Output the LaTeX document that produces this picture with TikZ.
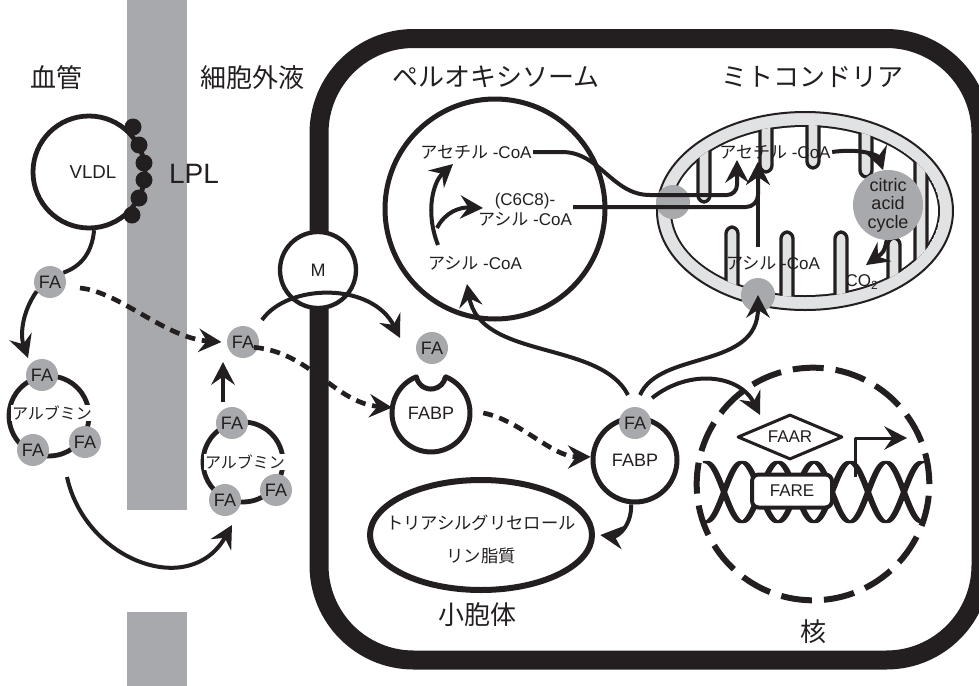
\documentclass[tikz,border=0pt]{standalone}
\usepackage{fontspec}
\setmainfont{Liberation Sans}
\newfontfamily\jp{Noto Sans CJK JP}
\usetikzlibrary{arrows.meta,shapes.geometric}

\definecolor{ink}{HTML}{231F20}
\definecolor{wallgray}{HTML}{A7A9AC}
\definecolor{fagray}{HTML}{A7A9AC}
\definecolor{mitogray}{HTML}{E1E2E4}

\tikzset{
  conn/.style={draw=ink, line width=3pt},
  arr/.style={conn, -{Stealth[length=17pt,width=17.5pt,inset=6pt]}},
  dotarr/.style={arr, line width=3.5pt, dash pattern=on 7.5pt off 5pt},
  fa/.style={circle, fill=fagray, minimum size=24pt, inner sep=0pt,
             font=\fontsize{13.5}{14}\selectfont, text=ink},
  ring/.style={circle, draw=ink, line width=3.6pt, inner sep=0pt},
  lpldot/.style={circle, fill=ink, minimum size=12.75pt, inner sep=0pt},
  biglabel/.style={font=\jp\fontsize{19.5}{22}\selectfont, text=ink, inner sep=0pt},
  smalljp/.style={font=\jp\fontsize{12.5}{14}\selectfont, text=ink},
  coa/.style={font=\fontsize{12.75}{15}\selectfont, text=ink, inner sep=1pt},
  crista/.style={fill=mitogray, draw=ink, line width=2.5pt, rounded corners=5pt},
  strand/.style={ink, line width=1.6pt},
}

\begin{document}
\begin{tikzpicture}[x=0.75pt,y=-0.75pt,line join=round]
\useasboundingbox (0,0) rectangle (979,686);
\fill[white] (0,0) rectangle (979,686);

% vessel wall
\fill[wallgray] (127,0) rectangle (187,510);
\fill[wallgray] (127,612) rectangle (187,686);

% cell membrane
\draw[ink, line width=14.25pt, rounded corners=71pt] (319,38.5) rectangle (981,660);

% compartment labels
\node[biglabel] (lblood) at (57,78) {血管};
\node[biglabel] (lecf) at (252,78) {細胞外液};
\node[biglabel] (lperox) at (496,77) {ペルオキシソーム};
\node[biglabel] (lmito) at (812,77) {ミトコンドリア};
\node[biglabel] (ler) at (477,615) {小胞体};
\node[biglabel] (lnuc) at (813,632) {核};

% VLDL with lipoprotein lipase
\node[ring, minimum size=84pt, font=\fontsize{14}{16}\selectfont, text=ink] (vldl) at (89,172) {\hspace*{6pt}VLDL};
\node[lpldot] (lpl1) at (133,127) {};
\node[lpldot] (lpl2) at (139,145) {};
\node[lpldot] (lpl3) at (144,163) {};
\node[lpldot] (lpl4) at (144,180) {};
\node[lpldot] (lpl5) at (139,198) {};
\node[lpldot] (lpl6) at (132,215) {};
\node[font=\fontsize{21}{24}\selectfont, text=ink] (lpl) at (194,174) {LPL};

\node[fa] (fa0) at (50,282) {FA};
\draw[conn] (vldl.-85) .. controls (92,252) and (82,266) .. (fa0.35);

% albumin in the blood
\node[ring, minimum size=60pt] (alb1) at (49,416) {};
\node[smalljp, fill=white, inner sep=0.5pt, font=\jp\fontsize{12}{14}\selectfont] (alb1t) at (52,413) {アルブミン};
\node[fa] (fa1a) at (42,375) {FA};
\node[fa] (fa1b) at (33,450) {FA};
\node[fa] (fa1c) at (85,442) {FA};

% albumin in the extracellular fluid
\node[ring, minimum size=60pt] (alb2) at (243,462) {};
\node[smalljp, fill=white, inner sep=0.5pt, font=\jp\fontsize{12}{14}\selectfont] (alb2t) at (245,462) {アルブミン};
\node[fa] (fa2a) at (232,423) {FA};
\node[fa] (fa2b) at (225,500) {FA};
\node[fa] (fa2c) at (276,490) {FA};
\node[fa] (fa2) at (243,342) {FA};

\coordinate (a1) at (28,358);
\draw[arr] (fa0.215) .. controls (22,312) and (20,335) .. (a1);
\coordinate (a2s) at (67,477);
\coordinate (a2e) at (232,525);
\draw[arr] (a2s) .. controls (85,560) and (190,600) .. (a2e);
\coordinate (a3s) at (223,402);
\coordinate (a3e) at (223,362);
\draw[arr] (a3s) -- (a3e);
\coordinate (d1s) at (80,288);
\draw[dotarr] (d1s) .. controls (120,292) and (165,338) .. ([xshift=-4pt]fa2.west);

% membrane transporter
\node[ring, fill=white, minimum size=57pt, line width=3.25pt,
      font=\fontsize{13.5}{15}\selectfont, text=ink] (mch) at (318,270) {M};
\coordinate (m1) at (262,320);
\coordinate (m2) at (400,338);
\draw[arr] (m1) .. controls (288,283) and (372,282) .. (m2);

% free FA and empty FABP
\node[fa] (fa3) at (432,348) {FA};
\node[circle, minimum size=58.5pt, inner sep=0pt, font=\fontsize{13.5}{15}\selectfont, text=ink] (fabp1) at (431,413) {FABP};
\draw[ink, line width=3.75pt]
  (445.6,376.8) arc[start angle=-68, end angle=248, radius=39]
  arc[start angle=170, end angle=10, radius=14.8] -- cycle;
\draw[dotarr] ([xshift=-4pt,yshift=-4pt]fa2.east) .. controls (310,352) and (335,403) .. (fabp1.172);

% FABP carrying FA
\node[ring, minimum size=63pt, line width=3.75pt, font=\fontsize{13.5}{15}\selectfont, text=ink] (fabp2) at (635,460) {\raisebox{-3pt}{FABP}};
\node[fa] (fa4) at (635,423) {FA};
\draw[dotarr] ([xshift=9.75pt]fabp1.east) .. controls (520,420) and (552,457) .. (fabp2.176);

% endoplasmic reticulum
\node[ellipse, draw=ink, line width=4.5pt, minimum width=166.5pt, minimum height=82.5pt] (ves) at (481,535) {};
\node[smalljp, font=\jp\fontsize{13}{15}\selectfont] (tag) at (481,523) {トリアシルグリセロール};
\node[smalljp, font=\jp\fontsize{13}{15}\selectfont] (pl) at (481,556) {リン脂質};
\draw[arr] (fabp2.265) .. controls (632,525) and (618,537) .. ([xshift=4pt]ves.east);

% peroxisome
\node[circle, draw=ink, line width=3.75pt, minimum size=165pt] (perox) at (495,209) {};
\node[coa] (pacetyl) at (476,152) {{\jp アセチル} -CoA};
\node[coa, align=center, font=\fontsize{12.75}{15}\selectfont] (pc6) at (525,210) {(C6C8)-\\{\jp アシル} -CoA};
\node[coa] (pacyl) at (475,263) {{\jp アシル} -CoA};
\coordinate (pa1) at (438,245);
\coordinate (pa1e) at (453,164);
\draw[arr] (pa1) .. controls (425,212) and (433,182) .. (pa1e);
\coordinate (pa2) at (437,228);
\coordinate (pa2e) at (483,208);
\draw[arr] (pa2) .. controls (445,212) and (460,207) .. (pa2e);

% mitochondrion: outer membrane, intermembrane space and cristae
\filldraw[fill=mitogray, draw=ink, line width=1.5pt] (805,211) ellipse [x radius=148, y radius=99];
\begin{scope}
  \clip (805,211) ellipse [x radius=135, y radius=86];
  \fill[ink] (805,211) ellipse [x radius=135, y radius=86];
  \fill[white] (805,211) ellipse [x radius=133, y radius=84];
  \foreach \cx/\cy in {704/202, 766/172, 813/168, 866/177, 921/268}
    \draw[crista] (\cx-6,100) rectangle (\cx+6,\cy);
  \foreach \cx/\cy in {732/227, 787/232, 841/232, 894/238}
    \draw[crista] (\cx-6,\cy) rectangle (\cx+6,320);
\end{scope}
\node[circle, fill=fagray, minimum size=25.5pt, inner sep=0pt] (chan1) at (673,202) {};
\node[circle, fill=fagray, minimum size=25.5pt, inner sep=0pt] (chan2) at (758,295) {};
\node[circle, fill=fagray, minimum size=52.5pt, inner sep=0pt, align=center,
      font=\fontsize{13.5}{13.9}\selectfont, text=ink] (tca) at (888,205) {citric\\acid\\cycle};
\node[coa] (macetyl) at (775,152) {{\jp アセチル} -CoA};
\node[coa] (macyl) at (773,263) {{\jp アシル} -CoA};
\node[coa] (co2) at (862,282) {CO\textsubscript{2}};

\coordinate (mt1) at (737,160);
\draw[arr] (pacetyl.east) -- (562,152) .. controls (600,152) and (612,195) .. (650,195)
  [rounded corners=7.5pt] -- (737,195) -- (mt1);
\coordinate (p2) at (573,207);
\coordinate (mt2) at (758,162);
\draw[arr] (p2) [rounded corners=9pt] -- (758,207) -- (mt2);
\coordinate (mv) at (758,247);
\draw[arr] (mv) -- (mt2);
\draw[arr] (macetyl.east) .. controls (860,148) and (878,155) .. (tca.98);
\draw[arr] (tca.268) .. controls (884,252) .. ([xshift=3pt,yshift=6pt]co2.north);

% nucleus
\node[circle, draw=ink, line width=4.5pt, dash pattern=on 23.25pt off 9pt,
      minimum size=174.45pt, inner sep=0pt] (nuc) at (813,484) {};
% double helix, drawn with a broad nib so the slanted parts come out heavier
\foreach \s in {0,1,2,3,4} {
  \draw[strand] plot[domain=-19:198, samples=150] (\x+722+\s, {492+30*sin(5*\x)});
  \draw[strand] plot[domain=-19:198, samples=150] (\x+722+\s, {492-30*sin(5*\x)});
}
\node[rectangle, rounded corners=5pt, draw=ink, fill=white, line width=3pt,
      minimum width=60pt, minimum height=24.75pt, font=\fontsize{12.75}{14}\selectfont, text=ink] (fare) at (792,491) {FARE};
\node[diamond, draw=ink, fill=white, line width=2.25pt, aspect=2.33, inner sep=0pt,
      minimum width=78.75pt, minimum height=33.75pt, font=\fontsize{12.75}{14}\selectfont, text=ink] (faar) at (790,437) {FAAR};
\coordinate (tss) at (855,477);
\coordinate (tse) at (907,438);
\draw[arr, line width=2.25pt] (tss) -- (855,438) -- (tse);

% FA distribution inside the cell
\coordinate (f1) at (628,395);
\coordinate (f1e) at (467,284);
\draw[arr] (f1) .. controls (600,340) and (480,360) .. (f1e);
\coordinate (f2) at (640,395);
\draw[arr] (f2) .. controls (660,350) and (758,370) .. (chan2.center);
\coordinate (f3) at (652,398);
\coordinate (f3e) at (760,415);
\draw[arr] (f3) .. controls (690,368) and (740,375) .. (f3e);
\end{tikzpicture}
\end{document}
